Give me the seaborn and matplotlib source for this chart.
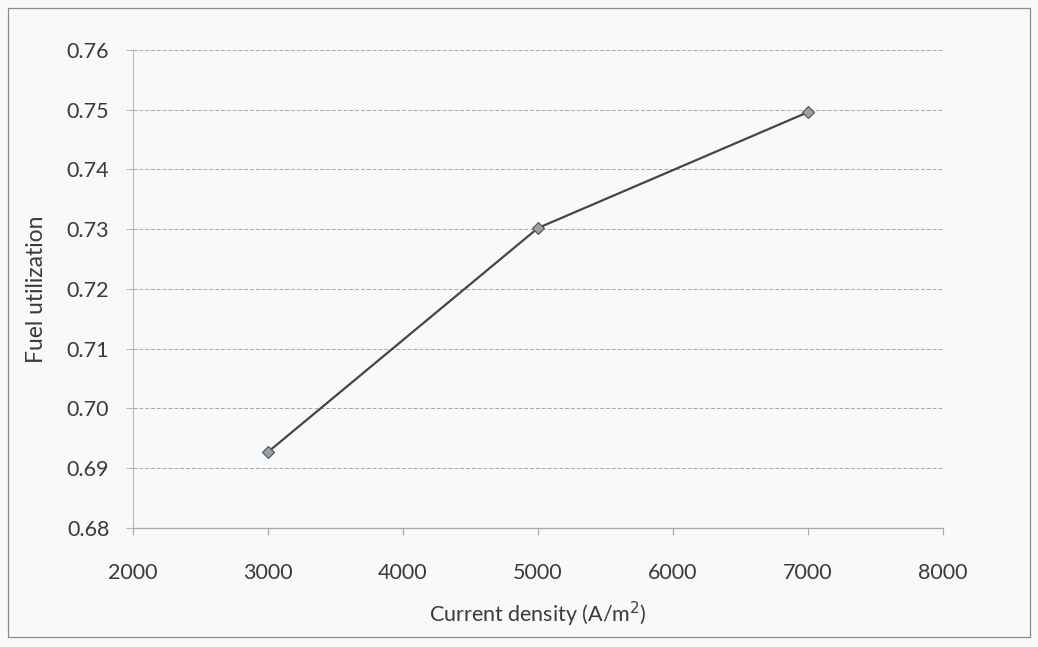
import matplotlib
matplotlib.use("Agg")
import matplotlib.pyplot as plt
from matplotlib.patches import Rectangle
import seaborn as sns
import pandas as pd

# Fuel utilization versus current density
current_density = [3000, 5000, 7000]
fuel_utilization = [0.6927, 0.7302, 0.7496]
x_ticks = [2000, 3000, 4000, 5000, 6000, 7000, 8000]
y_ticks = [0.68, 0.69, 0.70, 0.71, 0.72, 0.73, 0.74, 0.75, 0.76]

df = pd.DataFrame({"x": current_density, "y": fuel_utilization})

sns.set_theme(style="white")
plt.rcParams["font.family"] = ["Lato", "DejaVu Sans"]

bg = "#f7f9fb"
text_col = "#3a3a3a"

fig = plt.figure(figsize=(10.38, 6.47), dpi=100, facecolor=bg)
ax = fig.add_axes([0.128, 0.184, 0.7805, 0.7387])
ax.set_facecolor(bg)

sns.lineplot(data=df, x="x", y="y", ax=ax, color="#454545", linewidth=1.6,
             marker="D", markersize=6, markerfacecolor="#9aa0a4",
             markeredgecolor="#505050", markeredgewidth=0.8, zorder=3)

ax.set_xlim(2000, 8000)
ax.set_ylim(0.68, 0.76)
ax.set_xticks(x_ticks)
ax.set_xticklabels([str(v) for v in x_ticks])
ax.set_yticks(y_ticks)
ax.set_yticklabels([f"{v:.2f}" for v in y_ticks])

ax.yaxis.grid(True, color="#a8a8a8", linestyle=(0, (4, 2)), linewidth=0.7)
ax.xaxis.grid(False)

for side in ("top", "right"):
    ax.spines[side].set_visible(False)
ax.spines["left"].set_color("#b8b8b8")
ax.spines["left"].set_linewidth(0.8)
ax.spines["bottom"].set_color("#a8a8a8")
ax.spines["bottom"].set_linewidth(0.9)

ax.tick_params(axis="x", which="both", bottom=True, length=5, width=0.8,
               color="#a8a8a8", labelsize=15.5, labelcolor=text_col, pad=20)
ax.tick_params(axis="y", which="both", left=True, length=5, width=0.8,
               color="#b8b8b8", labelsize=15.5, labelcolor=text_col, pad=12)

ax.set_xlabel("Current density (A/m$^2$)", fontsize=15.5, color=text_col, labelpad=12)
ax.set_ylabel("Fuel utilization", fontsize=16.5, color=text_col, labelpad=14)

# thin frame round the whole chart area
fig.patches.append(Rectangle((0.008, 0.015), 0.984, 0.972, transform=fig.transFigure,
                             fill=False, edgecolor="#8a8a8a", linewidth=0.9))

fig.savefig("out.png", dpi=100, facecolor=bg)
